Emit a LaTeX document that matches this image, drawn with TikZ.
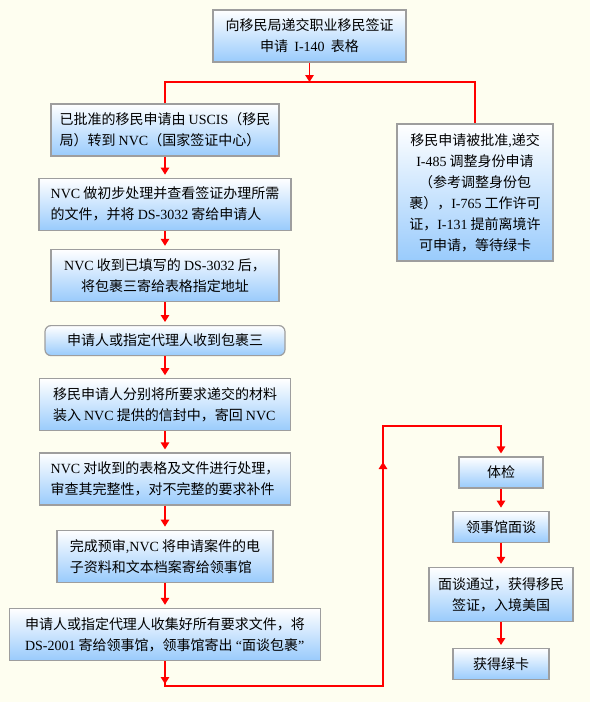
\documentclass[tikz,border=0pt]{standalone}
\usepackage{fontspec}
\setmainfont{Noto Sans CJK SC}
\newfontfamily\latfont{Liberation Serif}
\newcommand{\en}[1]{{\latfont #1}}
\usepackage{xcolor}
\usetikzlibrary{positioning, arrows.meta, decorations.markings}

\definecolor{bgcream}{RGB}{254,254,240}
\definecolor{boxblue}{RGB}{153,203,252}
\definecolor{boxline}{RGB}{158,158,158}

\begin{document}
\begin{tikzpicture}[
  x=1pt, y=-1pt,
  font=\fontsize{14}{21}\selectfont,
  >={Triangle[length=7pt,width=8.5pt]},
  stepbox/.style={draw=boxline, line width=1.2pt, top color=white, bottom color=boxblue,
                  inner sep=0pt, minimum height=52pt},
  leftbox/.style={stepbox, align=left},
  midbox/.style={stepbox, align=center},
  wire/.style={draw=red, line width=1.3pt},
  flow/.style={wire, ->, shorten >=3pt},
]

\fill[bgcream] (0,0) rectangle (590,702);

% Top: petition
\node[midbox, minimum width=193pt] (petition) at (309.5,36)
  {向移民局递交职业移民签证\\申请~~\en{I-140}~~表格};
\coordinate (split) at (309.5,82);

% Left column: consular processing
\node[leftbox, minimum width=228pt] (approved) at (165,130)
  {已批准的移民申请由 \en{USCIS}（移民\\局）转到 \en{NVC}（国家签证中心）};
\node[leftbox, minimum width=252pt, below=21pt of approved] (nvcinit)
  {\en{NVC} 做初步处理并查看签证办理所需\\的文件，并将 \en{DS-3032} 寄给申请人};
\node[midbox, minimum width=228pt, below=18pt of nvcinit] (dsform)
  {\en{NVC} 收到已填写的 \en{DS-3032} 后，\\将包裹三寄给表格指定地址};
\node[midbox, minimum width=240pt, minimum height=30pt, rounded corners=6pt,
      below=23pt of dsform] (pkgthree) {申请人或指定代理人收到包裹三};
\node[leftbox, minimum width=251pt, below=22pt of pkgthree] (sendback)
  {移民申请人分别将所要求递交的材料\\装入 \en{NVC} 提供的信封中，寄回 \en{NVC}};
\node[leftbox, minimum width=251pt, below=21pt of sendback] (review)
  {\en{NVC} 对收到的表格及文件进行处理，\\审查其完整性，对不完整的要求补件};
\node[leftbox, minimum width=216pt, below=24pt of review] (prereview)
  {完成预审\en{,}\en{NVC} 将申请案件的电\\子资料和文本档案寄给领事馆};
\node[leftbox, minimum width=311pt, below=25pt of prereview] (consulate)
  {申请人或指定代理人收集好所有要求文件，将\\\en{DS-2001} 寄给领事馆，领事馆寄出 \en{“}面谈包裹\en{”}};

% Right: adjustment of status
\node[midbox, minimum width=156pt, minimum height=137pt] (adjust) at (475,192.5)
  {移民申请被批准\en{,}递交\\\en{I-485} 调整身份申请\\（参考调整身份包\\裹），\en{I-765} 工作许可\\证，\en{I-131} 提前离境许\\可申请，等待绿卡};

% Right column: interview
\node[midbox, minimum width=84pt, minimum height=31pt] (medical) at (501,472.5) {体检};
\node[midbox, minimum width=96pt, minimum height=31pt, below=22pt of medical] (interview) {领事馆面谈};
\node[midbox, minimum width=144pt, minimum height=54pt, below=24pt of interview] (visa)
  {面谈通过，获得移民\\签证，入境美国};
\node[midbox, minimum width=96pt, minimum height=31pt, below=26pt of visa] (greencard) {获得绿卡};

\coordinate (lowL) at (165,686);
\coordinate (lowR) at (383,686);
\coordinate (upR) at (383,426);

% connectors
\draw[wire, ->] (petition) -- (split);
\draw[wire] (approved.north) |- (split) -| (adjust.north);

\draw[flow] (approved) -- (nvcinit);
\draw[flow] (nvcinit) -- (dsform);
\draw[flow] (dsform) -- (pkgthree);
\draw[flow] (pkgthree) -- (sendback);
\draw[flow] (sendback) -- (review);
\draw[flow] (review) -- (prereview);
\draw[flow] (prereview) -- (consulate);

\draw[flow, decoration={markings,
        mark=at position 23pt with {\arrow{>}},
        mark=at position 467pt with {\arrow{>}}},
      postaction={decorate}]
  (consulate.south) -- (lowL) -- (lowR) -- (upR) -| (medical.north);

\draw[flow] (medical) -- (interview);
\draw[flow] (interview) -- (visa);
\draw[flow] (visa) -- (greencard);

\end{tikzpicture}
\end{document}
